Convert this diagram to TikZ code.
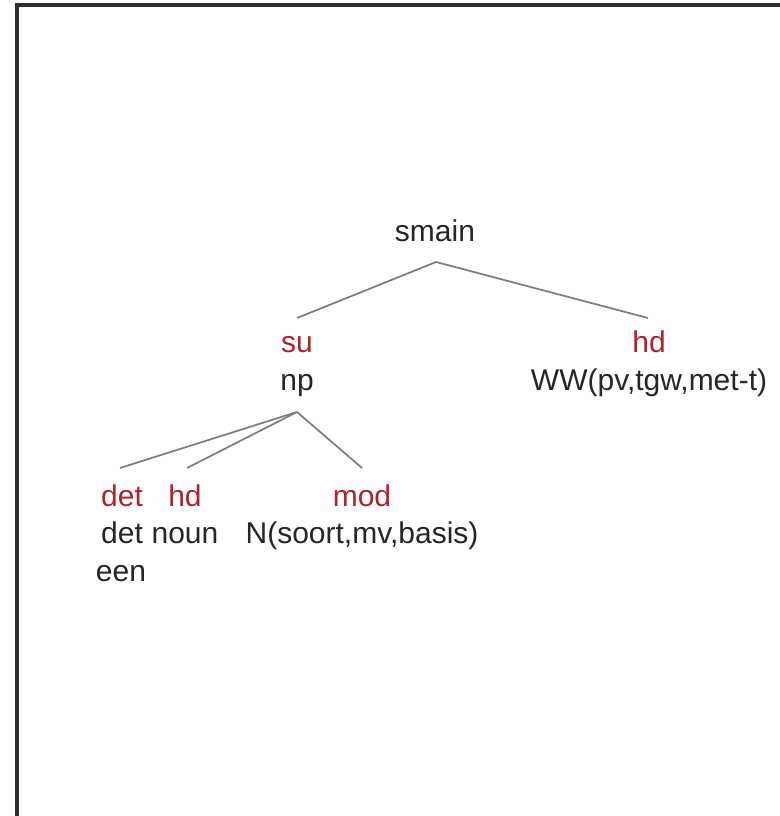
\documentclass[tikz,border=0pt]{standalone}
\usepackage{fontspec}
\setmainfont{Liberation Sans}
\definecolor{edgered}{RGB}{175,35,45}
\definecolor{branch}{RGB}{125,125,125}
\definecolor{frameline}{RGB}{45,45,45}
\begin{document}
\begin{tikzpicture}[x=0.75pt,y=-0.75pt,
  lbl/.style={font=\fontsize{22.5}{25}\selectfont, inner sep=0pt, anchor=base},
  rel/.style={lbl, text=edgered},
  cat/.style={lbl, text=black!85},
  branchline/.style={draw=branch, line width=1.3pt}]
\useasboundingbox (0,0) rectangle (780,816);
\fill[white] (0,0) rectangle (780,816);
% frame (top and left edges)
\draw[frameline, line width=3pt] (17,816) -- (17,5) -- (780,5);

% root
\node[cat] (smain) at (435,242) {smain};
\coordinate (smainjoin) at (436,262);

% subject branch
\node[rel] (su) at (297,352) {su};
\node[cat] (np) at (297,390) {np};
\coordinate (suend) at (297,318);
\coordinate (npjoin) at (297,412);

% head branch
\node[rel] (hdtop) at (649,352) {hd};
\node[cat] (ww) at (649,390) {WW(pv,tgw,met-t)};
\coordinate (hdend) at (648,318);

% daughters of np
\node[rel] (detr) at (122,506) {det};
\node[cat] (detc) at (122,543) {det};
\node[cat] (een) at (121,581) {een};
\coordinate (detend) at (120,468);

\node[rel] (hdn) at (185,506) {hd};
\node[cat] (noun) at (185,543) {noun};
\coordinate (hdnend) at (187,468);

\node[rel] (mod) at (362,506) {mod};
\node[cat] (nmod) at (362,543) {N(soort,mv,basis)};
\coordinate (modend) at (362,468);

% branches
\draw[branchline] (suend) -- (smainjoin) -- (hdend);
\draw[branchline] (detend) -- (npjoin);
\draw[branchline] (hdnend) -- (npjoin);
\draw[branchline] (modend) -- (npjoin);
\end{tikzpicture}
\end{document}
